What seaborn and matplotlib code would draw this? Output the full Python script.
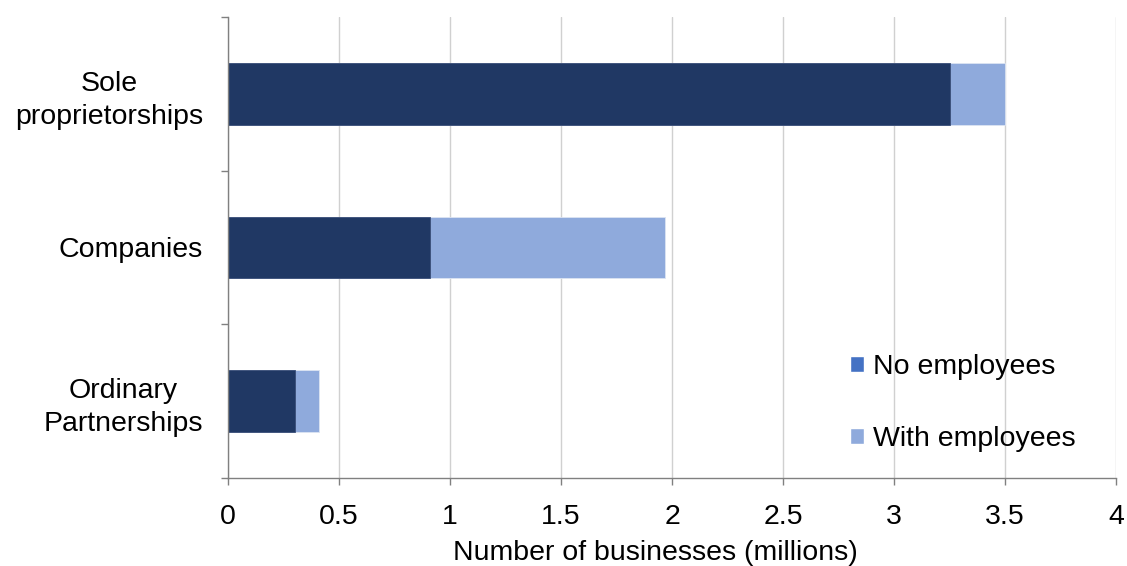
import matplotlib
matplotlib.use("Agg")
import matplotlib.pyplot as plt
from matplotlib.patches import Patch
import seaborn as sns
import pandas as pd

# Business counts by legal form (millions)
categories = ["Sole\nproprietorships", "Companies", "Ordinary\nPartnerships"]
no_employees = [3.25, 0.91, 0.30]
with_employees = [0.25, 1.06, 0.11]
x_ticks = [0, 0.5, 1, 1.5, 2, 2.5, 3, 3.5, 4]
x_tick_labels = ["0", "0.5", "1", "1.5", "2", "2.5", "3", "3.5", "4"]

sns.set_style("white")
plt.rcParams["font.family"] = ["Liberation Sans", "DejaVu Sans"]
plt.rcParams["text.color"] = "black"
plt.rcParams["xtick.labelcolor"] = "black"
plt.rcParams["ytick.labelcolor"] = "black"
plt.rcParams["axes.labelcolor"] = "black"

FS = 20.5

df = pd.DataFrame({
    "category": categories,
    "none": no_employees,
    "with": with_employees,
})
df["total"] = df["none"] + df["with"]

dark = "#203864"
light = "#8FAADC"
legend_dark = "#4472C4"

fig = plt.figure(figsize=(11.27, 5.66), dpi=100)
ax = fig.add_axes([0.2023, 0.1555, 0.9903 - 0.2023, 0.970 - 0.1555])

ax.set_axisbelow(True)
sns.barplot(data=df, y="category", x="total", color=light, width=0.4,
            saturation=1, orient="h", ax=ax, edgecolor="#DCE4F2", linewidth=0.6)
sns.barplot(data=df, y="category", x="none", color=dark, width=0.4,
            saturation=1, orient="h", ax=ax, edgecolor="#3A4E78", linewidth=0.6)

ax.set_xlim(0, 4)
ax.set_ylim(2.5, -0.5)
ax.set_xticks(x_ticks)
ax.set_xticklabels(x_tick_labels, fontsize=FS)
ax.xaxis.grid(True, color="#D0D0D0", linewidth=1)
ax.yaxis.grid(False)

# Category boundaries as major ticks, labels centred on minor ticks
ax.set_yticks([-0.5, 0.5, 1.5, 2.5])
ax.set_yticklabels([])
ax.set_yticks([0, 1, 2], minor=True)
ax.set_yticklabels(categories, minor=True, fontsize=FS,
                   multialignment="center", linespacing=1.35)
ax.tick_params(axis="y", which="minor", left=True, length=0, pad=18)
ax.tick_params(axis="y", which="major", left=True, length=5, width=1,
               color="#808080", direction="out")
ax.tick_params(axis="x", which="major", bottom=True, length=5, width=1,
               color="#808080", direction="out", pad=14)

ax.set_xlabel("Number of businesses (millions)", fontsize=FS)
ax.xaxis.set_label_coords(0.481, -0.135)
ax.xaxis.label.set_verticalalignment("top")
ax.set_ylabel("")

for side in ["top", "right"]:
    ax.spines[side].set_visible(False)
for side in ["left", "bottom"]:
    ax.spines[side].set_color("#808080")
    ax.spines[side].set_linewidth(1)

handles = [Patch(facecolor=legend_dark, label="No employees"),
           Patch(facecolor=light, label="With employees")]
ax.legend(handles=handles, loc="lower right", bbox_to_anchor=(0.983, 0.0),
          frameon=False, fontsize=FS, labelspacing=1.62, handlelength=0.5,
          handleheight=0.5, handletextpad=0.3)

fig.savefig("out.png", dpi=100)
